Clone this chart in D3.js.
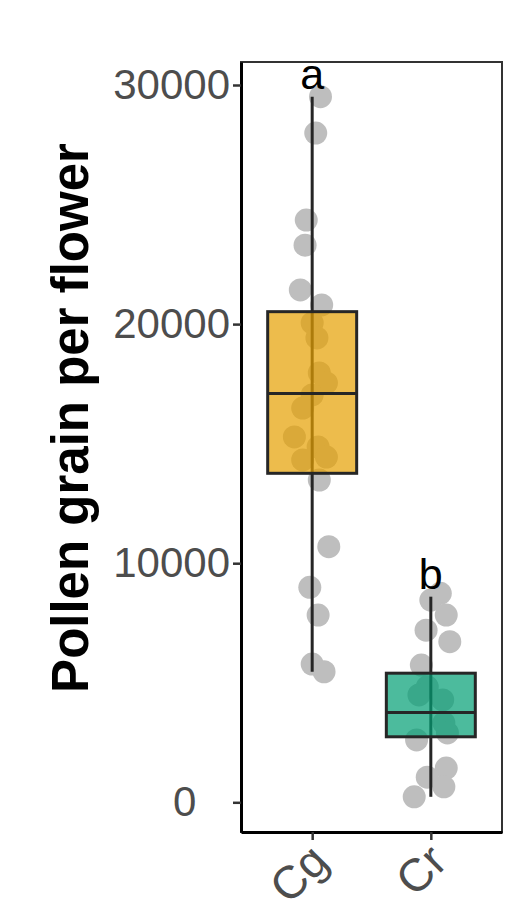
<!DOCTYPE html>
<html>
<head>
<meta charset="utf-8">
<script src="https://cdn.jsdelivr.net/npm/d3@7"></script>
<style>
  body { margin: 0; background: #fff; }
  svg { display: block; font-family: "Liberation Sans", Arial, sans-serif; }
</style>
</head>
<body>
<script>
// groups and their letters
var groups = ["Cg", "Cr"];
var letters = ["a", "b"];
var boxColors = ["#E69F00", "#009E73"];

// box statistics
var whiskerLow = [5460, 230];
var q1 = [13760, 2740];
var median = [17100, 3760];
var q3 = [20520, 5400];
var whiskerHigh = [29510, 8600];

// raw points per group (jitter in fractions of the category step)
var cgValues = [29510, 27990, 24350, 23300, 21430, 20800, 20050, 19420, 17960, 17540, 17040,
	16490, 15280, 14860, 14440, 14320, 13480, 10690, 8990, 7830, 5780, 5460];
var cgJitter = [0.07, 0.03, -0.05, -0.06, -0.10, 0.08, 0.0, 0.04, 0.06, 0.12, 0.0,
	-0.08, -0.15, 0.05, 0.12, -0.08, 0.06, 0.14, -0.02, 0.05, 0.0, 0.10];
var crValues = [8740, 8460, 7830, 7200, 6720, 5740, 4830, 4490, 4280, 3320, 2900, 2610,
	1430, 1050, 650, 230];
var crJitter = [0.08, 0.0, 0.13, -0.04, 0.16, -0.08, -0.03, -0.10, 0.10, 0.11, 0.14, -0.12,
	0.13, -0.03, 0.11, -0.14];

var yTicks = [0, 10000, 20000, 30000];

var width = 508, height = 919;
var margin = {top: 62, right: 6, bottom: 87, left: 241};

var svg = d3.select("body").append("svg")
	.attr("width", width)
	.attr("height", height);

var x = d3.scalePoint()
	.domain(groups)
	.range([margin.left, width - margin.right])
	.padding(0.6);

var y = d3.scaleLinear()
	.domain([-1242, 30962])
	.range([height - margin.bottom, margin.top]);

var step = x.step();
var boxW = step * 0.75;

//points first so the boxes sit on top
var pts = [];
cgValues.forEach(function(v, i) { pts.push({g: "Cg", v: v, j: cgJitter[i]}); });
crValues.forEach(function(v, i) { pts.push({g: "Cr", v: v, j: crJitter[i]}); });

svg.append("g").selectAll("circle")
	.data(pts)
	.enter().append("circle")
	.attr("cx", function(d) { return x(d.g) + d.j * step; })
	.attr("cy", function(d) { return y(d.v); })
	.attr("r", 11.5)
	.attr("fill", "#bebebe");

var boxes = svg.append("g").selectAll("g")
	.data(groups)
	.enter().append("g");

boxes.append("line")
	.attr("x1", function(d) { return x(d); })
	.attr("x2", function(d) { return x(d); })
	.attr("y1", function(d, i) { return y(whiskerLow[i]); })
	.attr("y2", function(d, i) { return y(whiskerHigh[i]); })
	.attr("stroke", "#262626")
	.attr("stroke-width", 3);

boxes.append("rect")
	.attr("x", function(d) { return x(d) - boxW / 2; })
	.attr("width", boxW)
	.attr("y", function(d, i) { return y(q3[i]); })
	.attr("height", function(d, i) { return y(q1[i]) - y(q3[i]); })
	.attr("fill", function(d, i) { return boxColors[i]; })
	.attr("fill-opacity", 0.7)
	.attr("stroke", "#262626")
	.attr("stroke-width", 3);

boxes.append("line")
	.attr("x1", function(d) { return x(d) - boxW / 2; })
	.attr("x2", function(d) { return x(d) + boxW / 2; })
	.attr("y1", function(d, i) { return y(median[i]); })
	.attr("y2", function(d, i) { return y(median[i]); })
	.attr("stroke", "#262626")
	.attr("stroke-width", 3);

// significance letters above the upper whisker
boxes.append("text")
	.attr("x", function(d) { return x(d); })
	.attr("y", function(d, i) { return y(whiskerHigh[i]) - 8; })
	.attr("text-anchor", "middle")
	.attr("font-size", 43)
	.attr("fill", "#000")
	.text(function(d, i) { return letters[i]; });

// panel border
svg.append("rect")
	.attr("x", margin.left)
	.attr("y", margin.top)
	.attr("width", width - margin.right - margin.left)
	.attr("height", height - margin.bottom - margin.top)
	.attr("fill", "none")
	.attr("stroke", "#333")
	.attr("stroke-width", 2);

var yAxis = svg.append("g")
	.attr("transform", "translate(" + margin.left + ",0)")
	.call(d3.axisLeft(y).tickValues(yTicks).tickSizeInner(8).tickSizeOuter(0).tickPadding(3).tickFormat(d3.format("d")));
yAxis.select(".domain").attr("stroke", "#000").attr("stroke-width", 3);
yAxis.selectAll(".tick line").attr("stroke", "#333").attr("stroke-width", 2.5);
var yLabels = yAxis.selectAll(".tick text")
	.attr("font-size", 42)
	.attr("fill", "#4d4d4d")
	.attr("font-family", "Liberation Sans, Arial, sans-serif");

// labels are not fully right-aligned in the original: shorter ones sit a bit left
var maxW = d3.max(yLabels.nodes(), function(n) { return n.getComputedTextLength(); });
yLabels.attr("x", function() {
	var w = this.getComputedTextLength();
	return -11 - 0.36 * (maxW - w);
});

var xAxis = svg.append("g")
	.attr("transform", "translate(0," + (height - margin.bottom) + ")")
	.call(d3.axisBottom(x).tickSizeInner(8).tickSizeOuter(0));
xAxis.select(".domain").attr("stroke", "#000").attr("stroke-width", 3);
xAxis.selectAll(".tick line").attr("stroke", "#333").attr("stroke-width", 2.5);
xAxis.selectAll(".tick text")
	.attr("font-size", 46)
	.attr("fill", "#4d4d4d")
	.attr("font-family", "Liberation Sans, Arial, sans-serif")
	.attr("text-anchor", "end")
	.attr("x", 0)
	.attr("y", 0)
	.attr("dy", 0)
	.attr("transform", "translate(18,32) rotate(-45)");

svg.append("text")
	.attr("transform", "translate(88,418) rotate(-90)")
	.attr("text-anchor", "middle")
	.attr("font-size", 51)
	.attr("font-weight", "bold")
	.attr("fill", "#000")
	.text("Pollen grain per flower");
</script>
</body>
</html>
